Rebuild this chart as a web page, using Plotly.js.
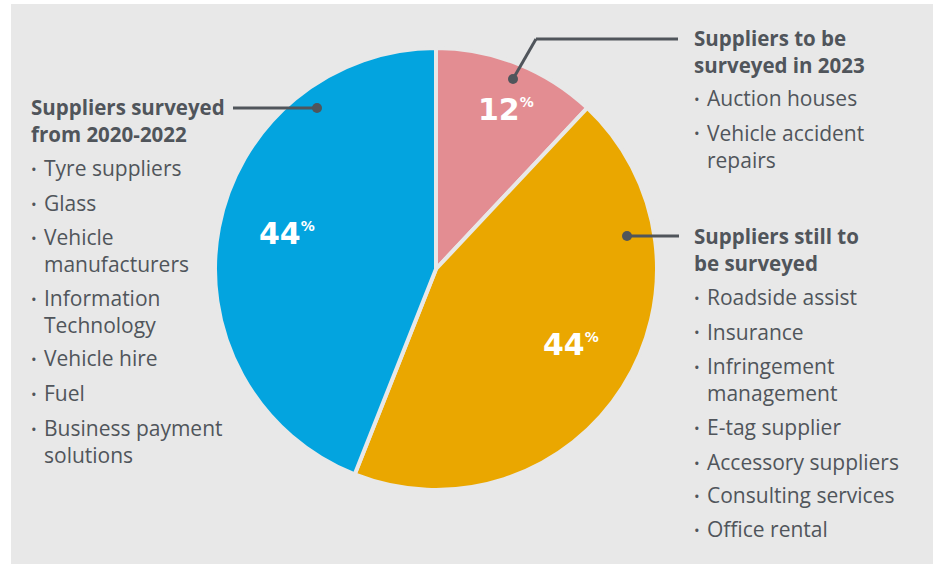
<!DOCTYPE html>
<html>
<head>
<meta charset="utf-8">
<script src="https://cdn.plot.ly/plotly-3.0.1.min.js"></script>
<style>html,body{margin:0;padding:0;background:#fff;}#chart{width:933px;height:564px;}</style>
</head>
<body>
<div id="chart"></div>
<script>
// ---- data ----
var categories = ["Suppliers to be surveyed in 2023", "Suppliers still to be surveyed", "Suppliers surveyed from 2020-2022"];
var shares = [12, 44, 44];
var sliceColors = ["#e38d92", "#eaa700", "#03a4df"];

var headingLeft = ["Suppliers surveyed", "from 2020-2022"];
var itemsLeft = [["Tyre suppliers"], ["Glass"], ["Vehicle", "manufacturers"], ["Information", "Technology"], ["Vehicle hire"], ["Fuel"], ["Business payment", "solutions"]];
var headingTop = ["Suppliers to be", "surveyed in 2023"];
var itemsTop = [["Auction houses"], ["Vehicle accident", "repairs"]];
var headingRight = ["Suppliers still to", "be surveyed"];
var itemsRight = [["Roadside assist"], ["Insurance"], ["Infringement", "management"], ["E-tag supplier"], ["Accessory suppliers"], ["Consulting services"], ["Office rental"]];

// ---- layout helpers ----
var W = 933, H = 564;
function px(x) { return x / W; }
function py(y) { return 1 - y / H; }
var textColor = "#50555b";
var FONT = "Open Sans";
var annotations = [];
var shapes = [];

// background panel
shapes.push({type: "rect", xref: "paper", yref: "paper", x0: px(11), x1: 1, y0: 0, y1: py(4), fillcolor: "#e8e8e8", line: {width: 0}, layer: "below"});

function addText(t, x, y, size, weight, color, anchor, family) {
  annotations.push({text: t, x: px(x), y: py(y), xref: "paper", yref: "paper", xanchor: anchor || "left", yanchor: "middle",
    align: "left", showarrow: false, font: {family: family || FONT, size: size, weight: weight, color: color || textColor}});
}

var BODY = 21, HEAD = 20.5;
function addBlock(heading, items, x, yHead, itemStarts) {
  addText(heading.join("<br>"), x, yHead + (heading.length - 1) * HEAD * 1.3 / 2, HEAD, 700);
  items.forEach(function (lines, k) {
    var y0 = itemStarts[k];
    addText("•", x + 5, y0 + 1, 15, 400, textColor, "center");
    addText(lines.join("<br>"), x + 13, y0 + (lines.length - 1) * BODY * 1.3 / 2, BODY, 400);
  });
}

addBlock(headingLeft, itemsLeft, 29, 107.5, [168.5, 202.5, 236.5, 297.5, 357.5, 392.5, 427.5]);
addBlock(headingTop, itemsTop, 692, 38, [98.5, 132.5]);
addBlock(headingRight, itemsRight, 692, 236.5, [296.5, 331.5, 365.5, 426.5, 461.5, 494.5, 528.5]);

// percentage labels
var pctPos = [[506, 109], [571, 344], [287, 233]];
shares.forEach(function (v, i) {
  annotations.push({text: "<b>" + v + "</b><sup><span style=\"font-size:14px\"><b>%</b></span></sup>", x: px(pctPos[i][0]), y: py(pctPos[i][1]),
    xref: "paper", yref: "paper", xanchor: "center", yanchor: "middle", showarrow: false,
    font: {family: "DejaVu Sans", size: 30, color: "#ffffff"}});
});

// connectors
var lc = "#50555b";
function seg(x0, y0, x1, y1) { shapes.push({type: "line", xref: "paper", yref: "paper", x0: px(x0), y0: py(y0), x1: px(x1), y1: py(y1), line: {color: lc, width: 3}}); }
function dot(x, y) { shapes.push({type: "circle", xref: "paper", yref: "paper", x0: px(x - 5), x1: px(x + 5), y0: py(y + 5), y1: py(y - 5), fillcolor: lc, line: {width: 0}}); }
seg(233, 108, 317, 108); dot(317, 108);
seg(513, 79, 536, 39); seg(536, 39, 678, 39); dot(513, 79);
seg(627, 236, 679, 236); dot(627, 236);

var trace = {
  type: "pie", labels: categories, values: shares, sort: false, direction: "clockwise", rotation: 0,
  marker: {colors: sliceColors, line: {color: "#e8e8e8", width: 4}},
  textinfo: "none", hoverinfo: "label+percent",
  domain: {x: [px(215), px(657)], y: [py(490), py(48)]}
};

var layout = {
  width: W, height: H, margin: {l: 0, r: 0, t: 0, b: 0}, showlegend: false,
  paper_bgcolor: "#ffffff", plot_bgcolor: "#ffffff",
  shapes: shapes, annotations: annotations
};
Plotly.newPlot("chart", [trace], layout, {displayModeBar: false, staticPlot: true});
</script>
</body>
</html>
